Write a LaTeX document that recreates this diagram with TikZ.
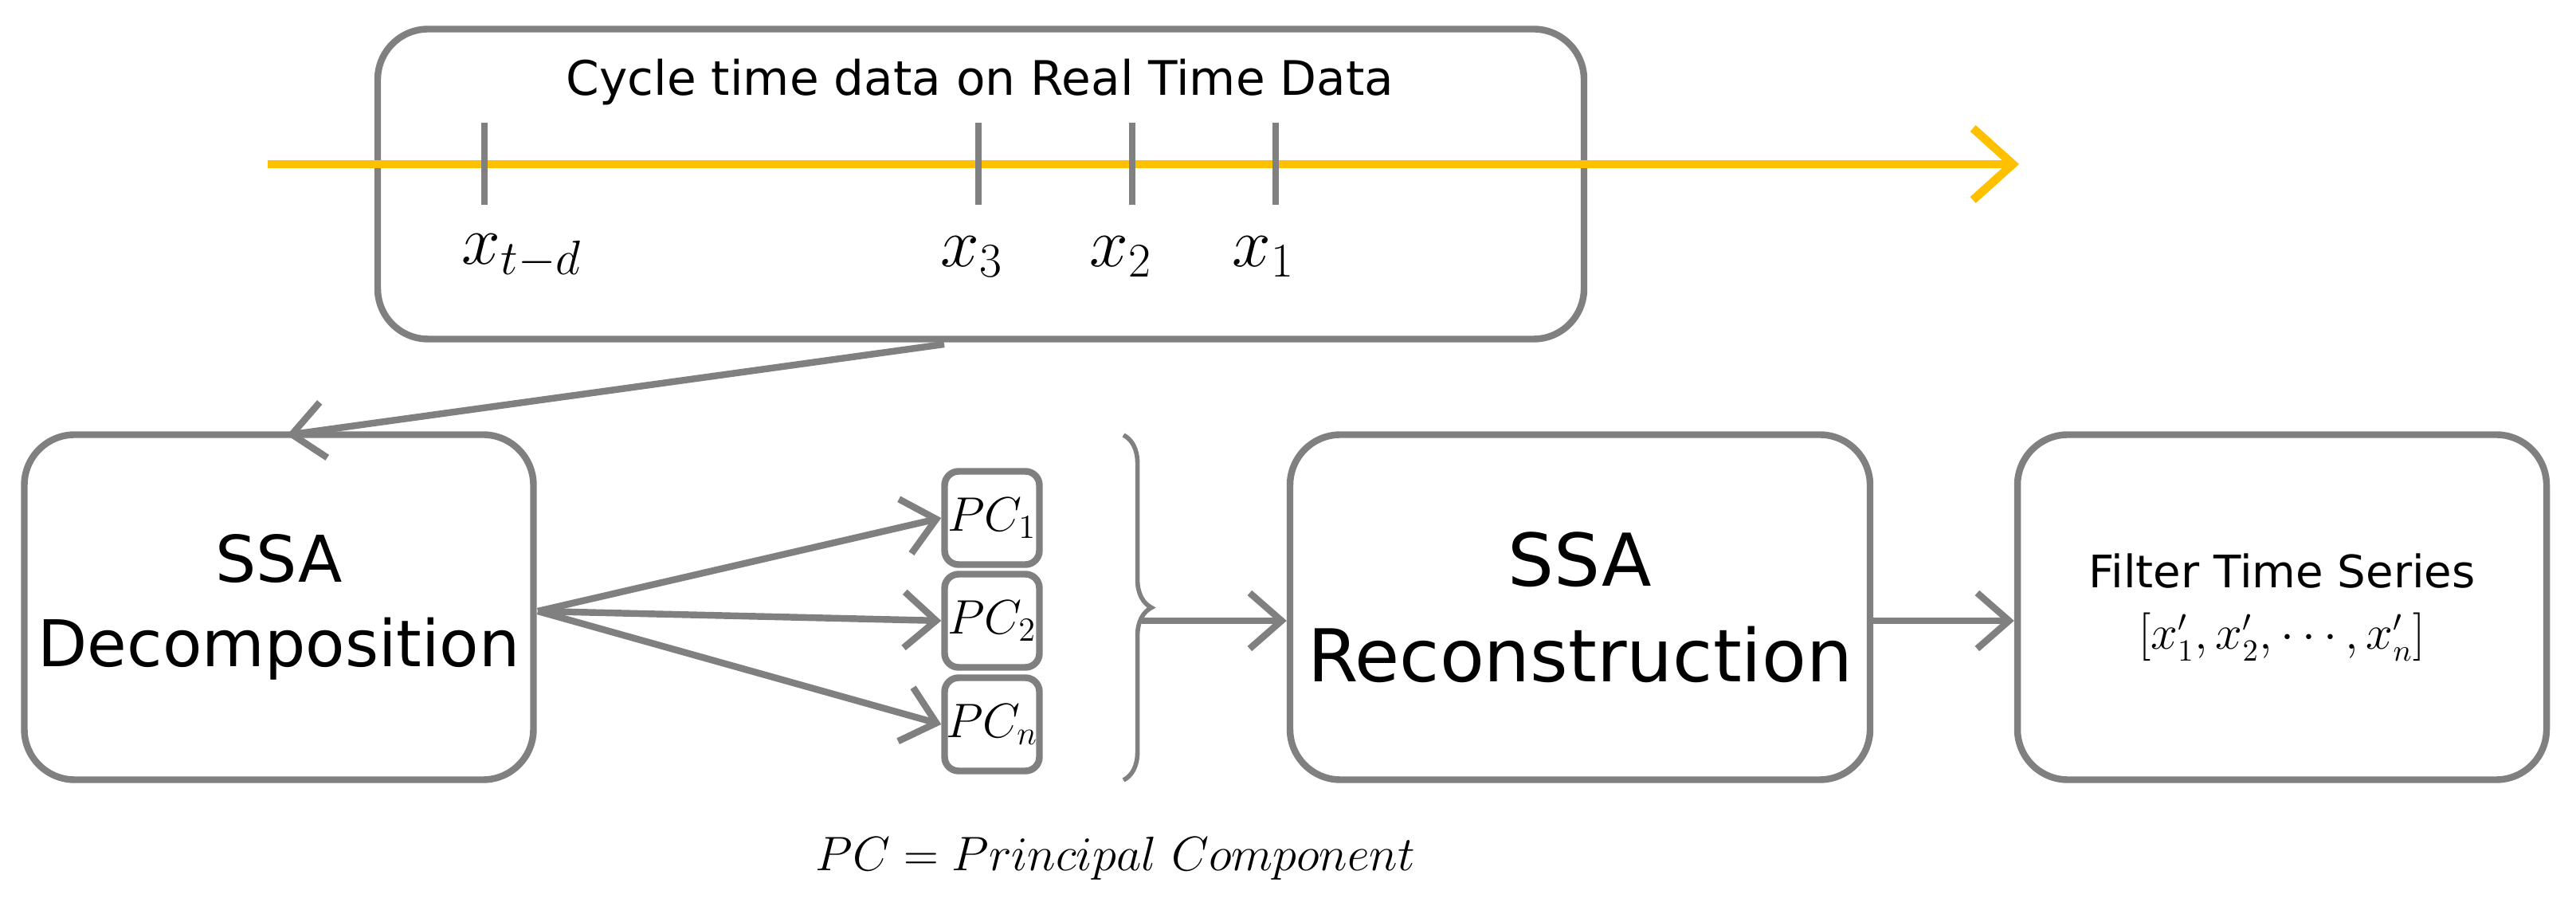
\documentclass[tikz,border=0pt]{standalone}
\usepackage{fontspec}
\setmainfont{DejaVu Sans}
\usetikzlibrary{decorations.pathreplacing,arrows.meta}
\definecolor{boxgray}{RGB}{128,128,128}
\definecolor{axisyellow}{RGB}{255,192,0}
\begin{document}
\begin{tikzpicture}[
        box/.style={draw=boxgray, line width=2.4pt, rounded corners=18pt, align=center, inner sep=0pt},
        pcbox/.style={draw=boxgray, line width=2.4pt, rounded corners=5pt, minimum width=1.19cm, minimum height=1.17cm, inner sep=0pt, font=\fontsize{18}{22}\selectfont},
        conn/.style={draw=boxgray, line width=2.4pt, -{Straight Barb[length=4mm,width=7mm]}},
        tick/.style={draw=boxgray, line width=2.4pt},
    ]
    \useasboundingbox (0,0) rectangle (32.33,11.52);
	\node[box, minimum width=15.14cm, minimum height=3.89cm] (data) at (12.31,9.21) {};
	\node[font=\fontsize{17}{20}\selectfont] (title) at (12.3,10.49) {Cycle time data on Real Time Data};
	\coordinate (ax_s) at (3.36,9.46);
	\coordinate (ax_e) at (25.34,9.46);
	\draw[axisyellow, line width=3pt, -{Straight Barb[length=5mm,width=9mm]}] (ax_s) -- (ax_e);
	\foreach \x in {6.08, 12.28, 14.21, 16.01} {
	    \draw[tick] (\x,8.95) -- (\x,9.98);
	}
	\node[font=\fontsize{24}{28}\selectfont] (x_td) at (6.55,8.3) {$x_{t-d}$};
	\node[font=\fontsize{24}{28}\selectfont] (x_3) at (12.2,8.3) {$x_3$};
	\node[font=\fontsize{24}{28}\selectfont] (x_2) at (14.07,8.3) {$x_2$};
	\node[font=\fontsize{24}{28}\selectfont] (x_1) at (15.86,8.3) {$x_1$};

	\node[box, minimum width=6.39cm, minimum height=4.33cm, font=\fontsize{23}{30}\selectfont] (dec) at (3.5,3.9) {SSA\\Decomposition};
	\node[pcbox] (pc_1) at (12.45,5.02) {$PC_1$};
	\node[pcbox] (pc_2) at (12.45,3.73) {$PC_2$};
	\node[pcbox] (pc_n) at (12.45,2.43) {$PC_n$};
	\node[box, minimum width=7.28cm, minimum height=4.33cm, font=\fontsize{26}{34}\selectfont] (rec) at (19.83,3.9) {SSA\\Reconstruction};
	\node[box, minimum width=6.64cm, minimum height=4.33cm, font=\fontsize{16}{22}\selectfont] (filt) at (28.64,3.9) {Filter Time Series\\$[x'_1,x'_2,\cdots,x'_n]$};
	\coordinate (br_t) at (14.1,6.06);
	\coordinate (br_b) at (14.1,1.73);
	\draw[boxgray, line width=1.6pt, decorate, decoration={brace, amplitude=10pt}] (br_t) -- (br_b);
	\node[font=\fontsize{17}{20}\selectfont] (note) at (14.0,0.75) {$PC=Principal\ Component$};

	\coordinate (d_top) at (11.85,7.2);
	\coordinate (d_out) at (6.75,3.85);
	\coordinate (br_out) at (14.33,3.73);
	\draw[conn] (d_top) -- (3.6,6.06);
	\draw[conn] (d_out) -- (pc_1.west);
	\draw[conn] (d_out) -- (pc_2.west);
	\draw[conn] (d_out) -- (pc_n.west);
	\draw[conn] (br_out) -- (rec.west |- br_out);
	\draw[conn] (rec.east |- br_out) -- (filt.west |- br_out);
\end{tikzpicture}
\end{document}
